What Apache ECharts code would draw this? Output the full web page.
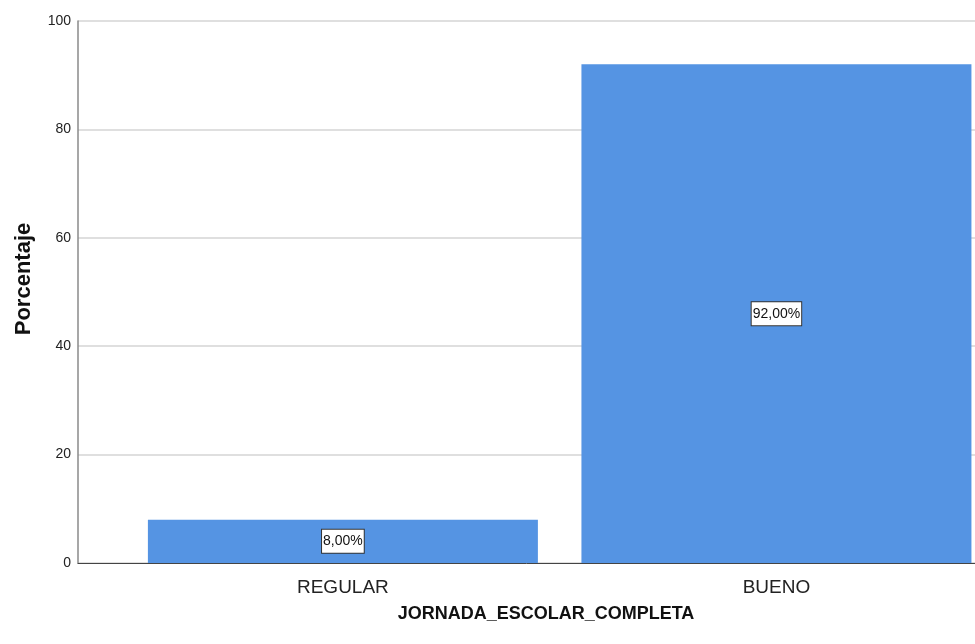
<!DOCTYPE html>
<html>
<head>
<meta charset="utf-8">
<script src="https://cdn.jsdelivr.net/npm/echarts@6/dist/echarts.min.js"></script>
<style>
  html, body { margin: 0; padding: 0; background: #fff; }
  #main { width: 975px; height: 644px; }
</style>
</head>
<body>
<div id="main"></div>
<script>
// datos del gráfico
var categorias = ['REGULAR', 'BUENO'];
var porcentajes = [8, 92];
var yTicks = [0, 20, 40, 60, 80, 100];

var fuente = "'Liberation Sans', Arial, sans-serif";
var myChart = echarts.init(document.getElementById('main'));

// cada barra se ubica en el indice de su categoria (0, 1) sobre un eje numerico
var datos = [];
for (var i = 0; i < categorias.length; i++) {
  datos.push([i, porcentajes[i]]);
}
var indices = categorias.map(function (c, i) { return i; });

var option = {
  animation: false,
  backgroundColor: '#fff',
  grid: { left: 78, top: 21, width: 897, height: 542 },
  xAxis: {
    type: 'value',
    // hueco a la izquierda como en el grafico de SPSS
    min: -0.611,
    max: 1.458,
    splitLine: { show: false },
    axisLine: { show: true, onZero: false, lineStyle: { color: '#444', width: 1 } },
    axisTick: { show: false, customValues: indices },
    axisLabel: {
      customValues: indices,
      formatter: function (v) { return categorias[Math.round(v)]; },
      color: '#222', fontSize: 19, fontFamily: fuente, margin: 15
    },
    name: 'JORNADA_ESCOLAR_COMPLETA',
    nameLocation: 'middle',
    nameGap: 42,
    nameTextStyle: { color: '#111', fontSize: 18, fontWeight: 'bold', fontFamily: fuente, padding: [0, 0, 0, 39] }
  },
  yAxis: {
    type: 'value',
    min: yTicks[0],
    max: yTicks[yTicks.length - 1],
    interval: 20,
    axisLine: { show: true, onZero: false, lineStyle: { color: '#8a8a8a', width: 1.5 } },
    axisTick: { show: false },
    axisLabel: { color: '#222', fontSize: 14, fontFamily: fuente, margin: 7 },
    splitLine: { show: true, lineStyle: { color: '#d4d4d4', width: 1.5 } },
    name: 'Porcentaje',
    nameLocation: 'middle',
    nameGap: 43,
    nameTextStyle: { color: '#111', fontSize: 22, fontWeight: 'bold', fontFamily: fuente, padding: [0, 0, 0, 26] }
  },
  series: [
    {
      type: 'bar',
      data: datos,
      barWidth: 390,
      itemStyle: { color: '#5594e3' },
      label: {
        show: true,
        position: 'inside',
        formatter: function (p) { return p.value[1].toFixed(2).replace('.', ',') + '%'; },
        color: '#111',
        fontSize: 14,
        fontFamily: fuente,
        backgroundColor: '#fff',
        borderColor: '#333',
        borderWidth: 1,
        padding: [5, 1, 4, 1]
      }
    }
  ]
};
myChart.setOption(option);
</script>
</body>
</html>
